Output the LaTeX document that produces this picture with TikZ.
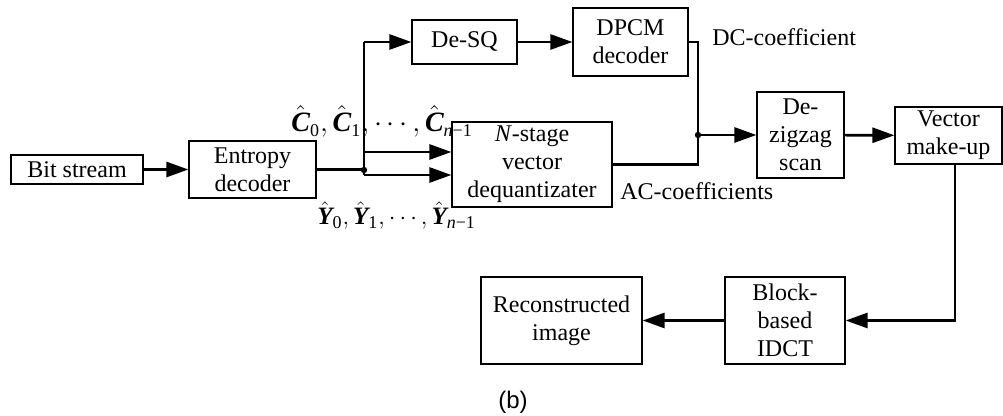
\documentclass[tikz,border=0pt]{standalone}
\usepackage{fontspec}
\usepackage{graphicx}
\setmainfont{Liberation Serif}
\newfontfamily\arialf{Liberation Sans}
\usetikzlibrary{arrows.meta}
\newcommand{\hv}[2]{\hat{\mbox{\bfseries\itshape #1}}_{\mbox{\fontsize{9}{10}\selectfont #2}}}
\tikzset{
  box/.style={draw, line width=0.6pt, inner sep=0pt, align=center, font=\fontsize{12}{14}\selectfont},
  wire/.style={line width=1.35pt},
  conn/.style={line width=1.35pt, -{Triangle[length=11pt,width=7.5pt]}},
  jdot/.style={circle, fill, inner sep=0pt, minimum size=3.2pt},
  lbl/.style={inner sep=0pt, font=\fontsize{12}{14}\selectfont},
  mlbl/.style={inner sep=0pt}
}
\begin{document}
\begin{tikzpicture}[x=0.5pt, y=-0.5pt]
\useasboundingbox (0,0) rectangle (1003,416);
% boxes
\node[box, minimum width=66pt, minimum height=14.5pt] (bit) at (77,169.5) {Bit stream};
\node[box, minimum width=63.5pt, minimum height=28.5pt] (ent) at (252.5,169.5) {Entropy\\decoder};
\node[box, minimum width=52.5pt, minimum height=22pt] (desq) at (464.5,42) {De-SQ};
\node[box, minimum width=57.5pt, minimum height=34pt] (dpcm) at (630.5,42) {DPCM\\decoder};
\node[box, minimum width=80pt, minimum height=42.5pt] (vq) at (532,164.5) {\textit{N}-stage\\vector\\dequantizater};
\node[box, minimum width=43.5pt, minimum height=43pt] (dz) at (800.5,135) {De-\\zigzag\\scan};
\node[box, minimum width=53.5pt, minimum height=28.5pt] (vm) at (948.5,135.5) {Vector\\make-up};
\node[box, minimum width=80.5pt, minimum height=43.5pt] (rec) at (561.5,320.5) {Reconstructed\\image};
\node[box, minimum width=60pt, minimum height=43.5pt] (idct) at (785,320.5) {Block-\\based\\IDCT};
% coordinates
\coordinate (J) at (364,170);
\coordinate (T) at (364,42);
\coordinate (U) at (364,152);
\coordinate (B) at (364,175);
\coordinate (K) at (698,135);
\coordinate (R) at (955,320.5);
% connectors
\draw[conn] (bit) -- (ent);
\draw[wire] (ent.east) -- (ent.east -| J);
\draw[wire] (T) -- (B);
\draw[conn] (T) -- (desq.west);
\draw[conn] (U) -- (U -| vq.west);
\draw[conn] (B) -- (B -| vq.west);
\draw[conn] (desq) -- (dpcm);
\draw[wire] (dpcm.east) -| (K);
\draw[wire] (vq.east) -| (K);
\draw[conn] (K) -- (dz.west);
\draw[conn] (dz) -- (vm);
\draw[conn] (vm.south -| R) |- (idct.east);
\draw[conn] (idct) -- (rec);
\node[jdot] (jd) at (J) {};
\node[jdot] (kd) at (K) {};
% labels
\node[mlbl, anchor=base west, font=\fontsize{14}{16}\selectfont] (cl) at (291,132) {$\hv{C}{0},\hv{C}{1},\cdots,\hv{C}{\textit{n}−1}$};
\node[mlbl, anchor=base west, font=\fontsize{12.5}{15}\selectfont] (yl) at (317,225) {$\hv{Y}{0},\hv{Y}{1},\cdots,\hv{Y}{\textit{n}−1}$};
\node[lbl, anchor=base west] (dc) at (712,46) {DC-coefficient};
\node[lbl, anchor=base west] (ac) at (620,200) {AC-coefficients};
\node[inner sep=0pt, font=\arialf\fontsize{12}{14}\selectfont] (cap) at (513,402) {(b)};
\end{tikzpicture}
\end{document}
